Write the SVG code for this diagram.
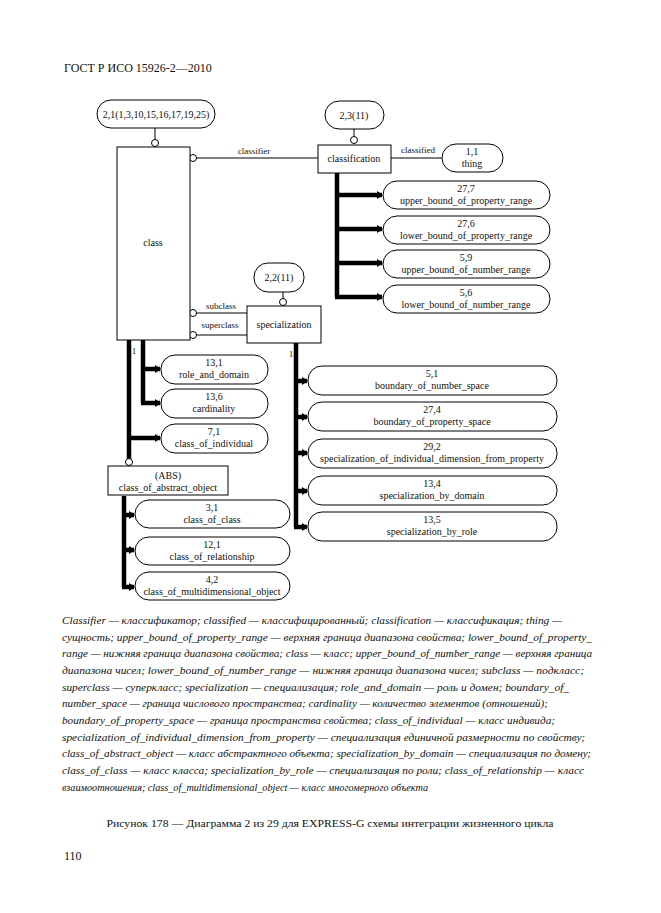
<svg xmlns="http://www.w3.org/2000/svg" width="661" height="913" viewBox="0 0 661 913">
<defs>
<marker id="ar" markerUnits="userSpaceOnUse" markerWidth="6" markerHeight="8" refX="5" refY="4" orient="auto"><path d="M0,0 L6,4 L0,8 Z" fill="#000"/></marker>
<style>
text{font-family:"Liberation Serif","Times New Roman",serif;fill:#111}
.t{font-size:10px;text-anchor:middle}
.l{font-size:9px;text-anchor:middle}
.p{fill:#fff;stroke:#000;stroke-width:1}
.b{fill:#fff;stroke:#000;stroke-width:1}
.c{fill:#fff;stroke:#000;stroke-width:1}
.ln{stroke:#000;stroke-width:1;fill:none}
.th{stroke:#000;stroke-width:4.5;fill:none}
.br{stroke:#000;stroke-width:4.5;fill:none;marker-end:url(#ar)}
.cap{font-size:11px;font-style:italic}
</style>
</defs>
<rect width="661" height="913" fill="#fff"/>
<text x="64" y="72" style="font-size:12px">ГОСТ Р ИСО 15926-2—2010</text>

<g id="connectors">
<line class="ln" x1="155" y1="128" x2="155" y2="140"/>
<line class="ln" x1="354" y1="129" x2="354" y2="137"/>
<line class="ln" x1="283" y1="292" x2="283" y2="299"/>
<line class="ln" x1="196" y1="158" x2="318" y2="158"/>
<line class="ln" x1="391" y1="158" x2="442" y2="158"/>
<line class="ln" x1="196" y1="313" x2="247" y2="313"/>
<line class="ln" x1="196" y1="335" x2="247" y2="335"/>
<path class="th" d="M337,172 V297"/>
<path class="br" d="M337,195 H382"/>
<path class="br" d="M337,229 H382"/>
<path class="br" d="M337,263 H382"/>
<path class="br" d="M335,297 H382"/>
<path class="th" d="M129,340 V459"/>
<path class="th" d="M143,340 V403"/>
<path class="br" d="M143,369 H160"/>
<path class="br" d="M141,403 H160"/>
<path class="br" d="M129,438 H160"/>
<path class="th" d="M296,343 V527"/>
<path class="br" d="M296,381 H307"/>
<path class="br" d="M296,417 H307"/>
<path class="br" d="M296,453 H307"/>
<path class="br" d="M296,491 H307"/>
<path class="br" d="M294,527 H307"/>
<path class="th" d="M124,496 V587"/>
<path class="br" d="M124,515 H134"/>
<path class="br" d="M124,550 H134"/>
<path class="br" d="M122,587 H134"/>
<circle class="c" cx="155" cy="143" r="3.5"/>
<circle class="c" cx="354" cy="140" r="3.5"/>
<circle class="c" cx="283" cy="302" r="3.5"/>
<circle class="c" cx="193" cy="158" r="3.5"/>
<circle class="c" cx="193" cy="313" r="3.5"/>
<circle class="c" cx="193" cy="335" r="3.5"/>
<circle class="c" cx="129" cy="462" r="3.5"/>
<text class="l" x="254" y="154">classifier</text>
<text class="l" x="418" y="153">classified</text>
<text class="l" x="221" y="309">subclass</text>
<text class="l" x="220" y="328">superclass</text>
<text class="l" x="134" y="354">1</text>
<text class="l" x="291" y="357">1</text>
</g>

<g id="n21"><rect class="p" x="97" y="100" width="118" height="28" rx="14"/><text class="t" x="156" y="118">2,1(1,3,10,15,16,17,19,25)</text></g>
<g id="n23"><rect class="p" x="325" y="101" width="59" height="28" rx="14"/><text class="t" x="354" y="119">2,3(11)</text></g>
<g id="n22"><rect class="p" x="254" y="263" width="50" height="29" rx="14"/><text class="t" x="279" y="281">2,2(11)</text></g>
<g id="class"><rect class="b" x="117" y="147" width="73" height="193"/><text class="t" x="153" y="246">class</text></g>
<g id="classification"><rect class="b" x="318" y="145" width="73" height="28"/><text class="t" x="354" y="162">classification</text></g>
<g id="specialization"><rect class="b" x="247" y="306" width="74" height="37"/><text class="t" x="284" y="328">specialization</text></g>
<g id="abs"><rect class="b" x="108" y="466" width="120" height="29"/><text class="t" x="168" y="479">(ABS)</text><text class="t" x="168" y="491">class_of_abstract_object</text></g>

<g id="thing"><rect class="p" x="442" y="144" width="61" height="28" rx="14"/><text class="t" x="472" y="155">1,1</text><text class="t" x="472" y="167">thing</text></g>
<g id="ubpr"><rect class="p" x="383" y="181" width="167" height="28" rx="14"/><text class="t" x="466" y="192">27,7</text><text class="t" x="466" y="204">upper_bound_of_property_range</text></g>
<g id="lbpr"><rect class="p" x="383" y="216" width="167" height="28" rx="14"/><text class="t" x="466" y="227">27,6</text><text class="t" x="466" y="239">lower_bound_of_property_range</text></g>
<g id="ubnr"><rect class="p" x="383" y="250" width="167" height="28" rx="14"/><text class="t" x="466" y="261">5,9</text><text class="t" x="466" y="273">upper_bound_of_number_range</text></g>
<g id="lbnr"><rect class="p" x="383" y="285" width="167" height="28" rx="14"/><text class="t" x="466" y="296">5,6</text><text class="t" x="466" y="308">lower_bound_of_number_range</text></g>

<g id="rad"><rect class="p" x="161" y="355" width="107" height="29" rx="14"/><text class="t" x="214" y="366">13,1</text><text class="t" x="214" y="378">role_and_domain</text></g>
<g id="card"><rect class="p" x="161" y="389" width="107" height="29" rx="14"/><text class="t" x="214" y="400">13,6</text><text class="t" x="214" y="412">cardinality</text></g>
<g id="coi"><rect class="p" x="161" y="424" width="107" height="29" rx="14"/><text class="t" x="214" y="435">7,1</text><text class="t" x="214" y="447">class_of_individual</text></g>

<g id="bns"><rect class="p" x="308" y="366" width="249" height="29" rx="14"/><text class="t" x="432" y="377">5,1</text><text class="t" x="432" y="389">boundary_of_number_space</text></g>
<g id="bps"><rect class="p" x="308" y="402" width="249" height="29" rx="14"/><text class="t" x="432" y="413">27,4</text><text class="t" x="432" y="425">boundary_of_property_space</text></g>
<g id="soid"><rect class="p" x="308" y="439" width="249" height="29" rx="14"/><text class="t" x="432" y="450">29,2</text><text class="t" x="432" y="462">specialization_of_individual_dimension_from_property</text></g>
<g id="sbd"><rect class="p" x="308" y="476" width="249" height="29" rx="14"/><text class="t" x="432" y="487">13,4</text><text class="t" x="432" y="499">specialization_by_domain</text></g>
<g id="sbr"><rect class="p" x="308" y="512" width="249" height="29" rx="14"/><text class="t" x="432" y="523">13,5</text><text class="t" x="432" y="535">specialization_by_role</text></g>

<g id="coc"><rect class="p" x="135" y="500" width="155" height="28" rx="14"/><text class="t" x="212" y="511">3,1</text><text class="t" x="212" y="523">class_of_class</text></g>
<g id="cor"><rect class="p" x="135" y="537" width="155" height="28" rx="14"/><text class="t" x="212" y="548">12,1</text><text class="t" x="212" y="560">class_of_relationship</text></g>
<g id="cmo"><rect class="p" x="135" y="572" width="155" height="28" rx="14"/><text class="t" x="212" y="583">4,2</text><text class="t" x="212" y="595">class_of_multidimensional_object</text></g>

<g id="legend">
<text class="cap" x="62" y="624" textLength="500" lengthAdjust="spacingAndGlyphs">Classifier — классификатор; classified — классифицированный; classification — классификация; thing —</text>
<text class="cap" x="62" y="641" textLength="530" lengthAdjust="spacingAndGlyphs">сущность; upper_bound_of_property_range — верхняя граница диапазона свойства; lower_bound_of_property_</text>
<text class="cap" x="62" y="657" textLength="530" lengthAdjust="spacingAndGlyphs">range — нижняя граница диапазона свойства; class — класс; upper_bound_of_number_range — верхняя граница</text>
<text class="cap" x="62" y="674" textLength="522" lengthAdjust="spacingAndGlyphs">диапазона чисел; lower_bound_of_number_range — нижняя граница диапазона чисел; subclass — подкласс;</text>
<text class="cap" x="62" y="691" textLength="507" lengthAdjust="spacingAndGlyphs">superclass — суперкласс; specialization — специализация; role_and_domain — роль и домен; boundary_of_</text>
<text class="cap" x="62" y="707" textLength="486" lengthAdjust="spacingAndGlyphs">number_space — граница числового пространства; cardinality — количество элементов (отношений);</text>
<text class="cap" x="62" y="724" textLength="493" lengthAdjust="spacingAndGlyphs">boundary_of_property_space — граница пространства свойства; class_of_individual — класс индивида;</text>
<text class="cap" x="62" y="741" textLength="523" lengthAdjust="spacingAndGlyphs">specialization_of_individual_dimension_from_property — специализация единичной размерности по свойству;</text>
<text class="cap" x="62" y="757" textLength="529" lengthAdjust="spacingAndGlyphs">class_of_abstract_object — класс абстрактного объекта; specialization_by_domain — специализация по домену;</text>
<text class="cap" x="62" y="774" textLength="522" lengthAdjust="spacingAndGlyphs">class_of_class — класс класса; specialization_by_role — специализация по роли; class_of_relationship — класс</text>
<text class="cap" x="62" y="791" textLength="366" lengthAdjust="spacingAndGlyphs">взаимоотношения; class_of_multidimensional_object — класс многомерного объекта</text>
</g>
<text x="330" y="827" style="font-size:11px;text-anchor:middle" textLength="447" lengthAdjust="spacingAndGlyphs">Рисунок 178 — Диаграмма 2 из 29 для EXPRESS-G схемы интеграции жизненного цикла</text>
<text x="64" y="860" style="font-size:12px">110</text>
</svg>
